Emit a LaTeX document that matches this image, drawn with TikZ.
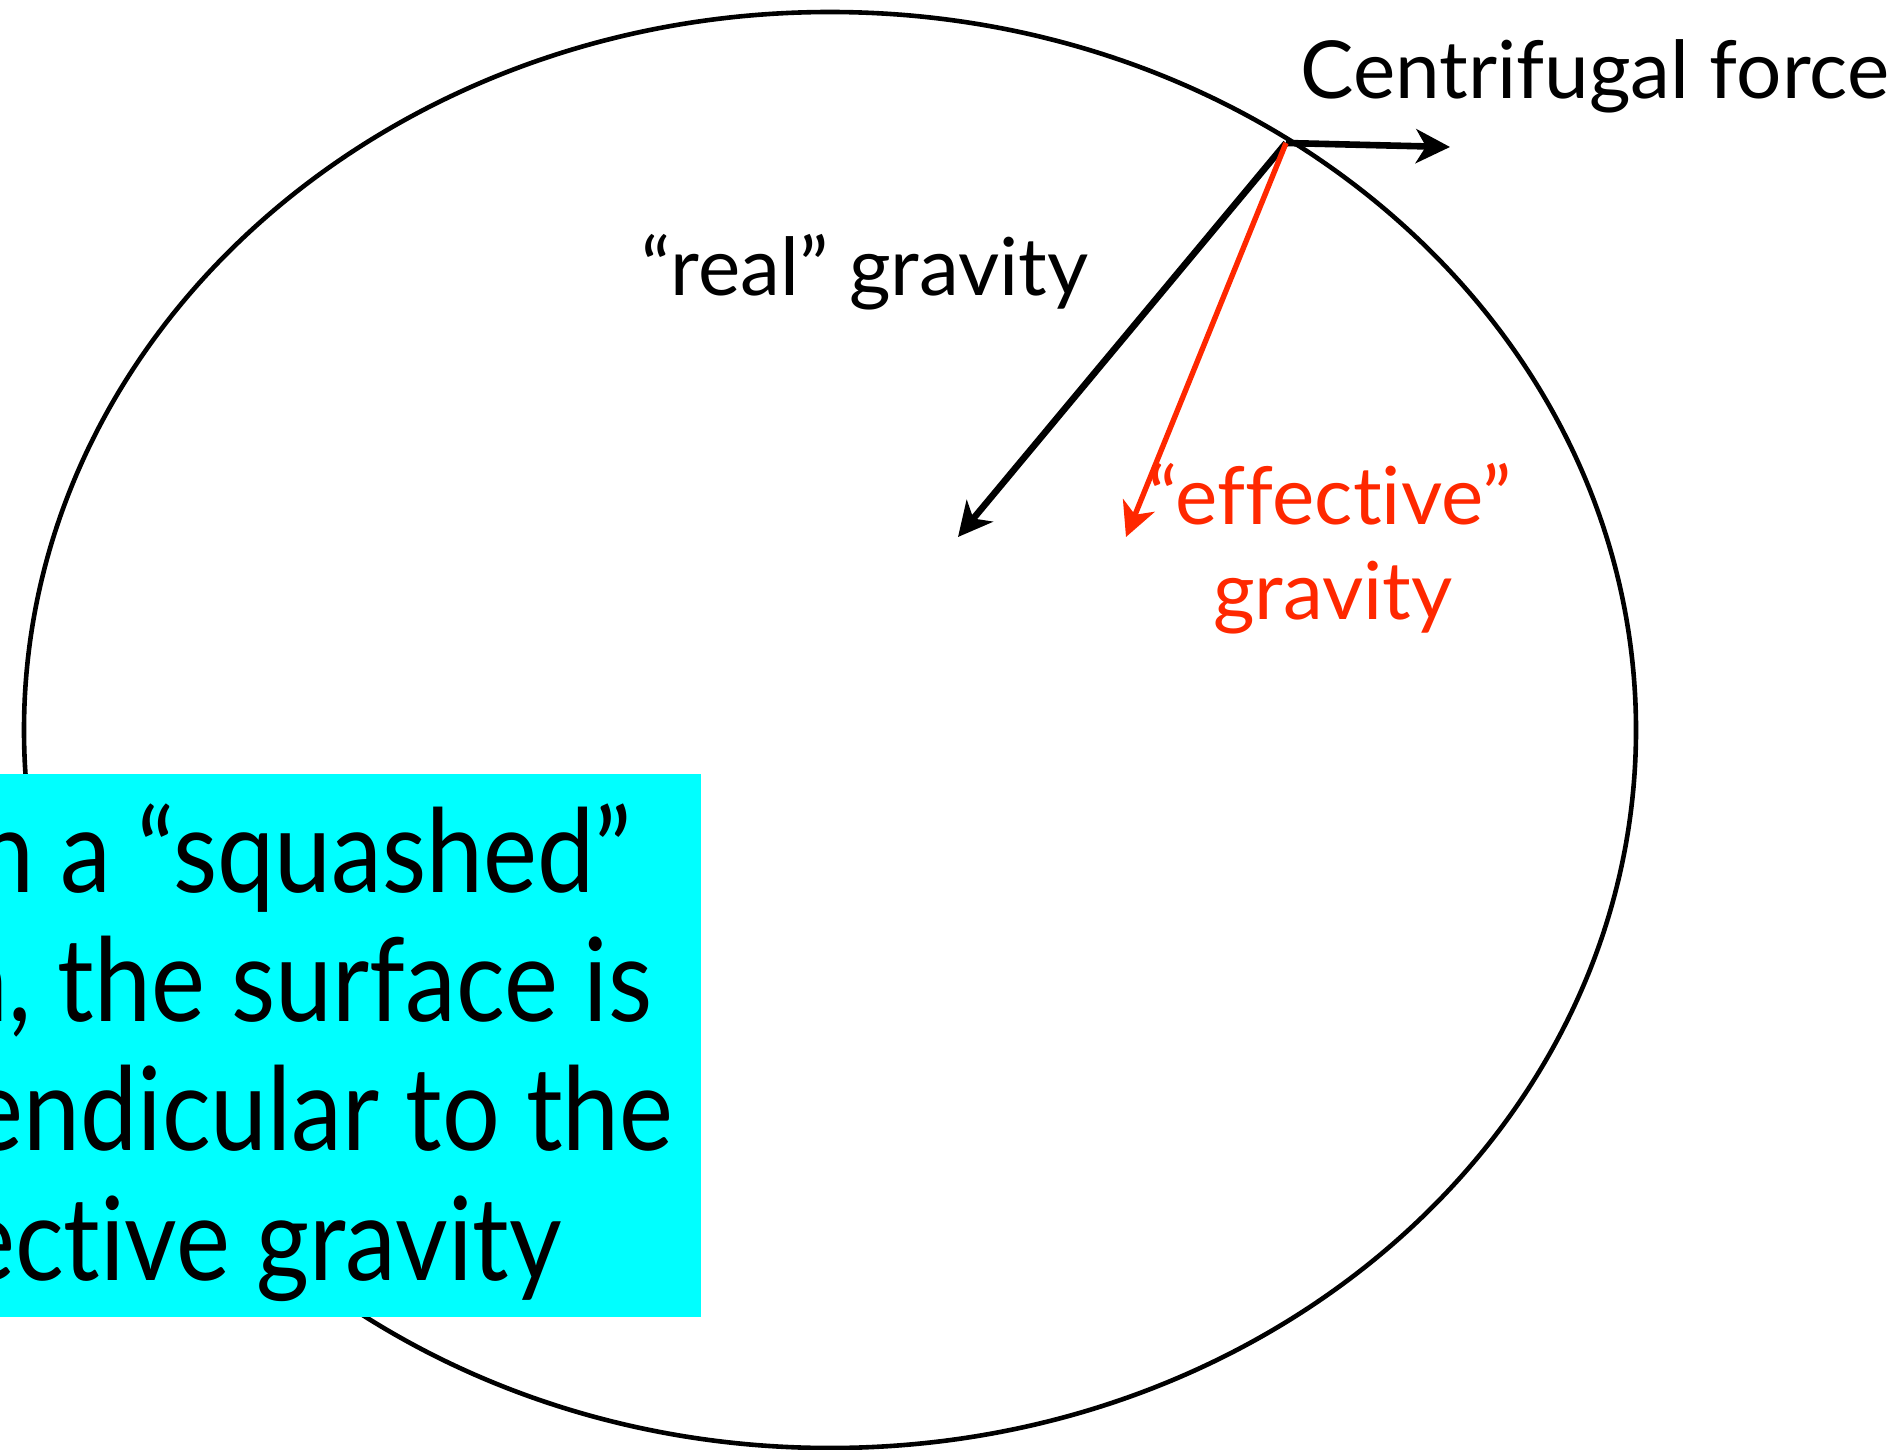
\documentclass[tikz,border=0pt]{standalone}
\usepackage{fontspec}
\setmainfont{Lato}[RawFeature={-liga;-dlig}]
\newfontfamily\boxfont{Lato}[FakeStretch=0.88,RawFeature={-liga;-dlig}]
\usetikzlibrary{arrows.meta}
\definecolor{effred}{RGB}{255,40,0}
\definecolor{boxcyan}{RGB}{0,255,255}
\begin{document}
\begin{tikzpicture}[x=0.5pt,y=-0.5pt,
  force/.style={line width=3.3pt, -{Stealth[length=17pt,width=17pt,inset=5pt]}},
  lbl/.style={inner sep=0pt, font=\fontsize{40}{48}\selectfont},
  boxtxt/.style={inner sep=0pt, font=\boxfont\fontsize{58}{64}\selectfont}]
\useasboundingbox (0,0) rectangle (1902,1450);
\draw[line width=2.3pt] (830,730) ellipse [x radius=403pt, y radius=359pt];
\coordinate (P) at (1286,143);
\coordinate (cf) at (1450,147);
\coordinate (rg) at (958,537);
\coordinate (eg) at (1126,537);
\draw[force] (P) -- (cf);
\draw[force] (P) -- (rg);
\draw[force, effred, line width=2.7pt] (P) -- (eg);
\node[lbl, anchor=base west] (cflbl) at (1300,99) {Centrifugal force};
\node[lbl, anchor=base] (rglbl) at (865,295) {“real” gravity};
\node[lbl, anchor=base, text=effred] (eglbl1) at (1330,524) {“effective”};
\node[lbl, anchor=base, text=effred] (eglbl2) at (1333,619) {gravity};
\begin{scope}
\clip (0,0) rectangle (1902,1450);
\node[fill=boxcyan, inner sep=0pt, minimum width=350.5pt, minimum height=271.5pt, anchor=north west] (box) at (0,774) {};
\node[boxtxt, anchor=base east] (t1) at (632,892) {n a “squashed”};
\node[boxtxt, anchor=base east] (t2) at (653,1021) {n, the surface is};
\node[boxtxt, anchor=base east] (t3) at (674,1150) {endicular to the};
\node[boxtxt, anchor=base east] (t4) at (562,1280) {ective gravity};
\end{scope}
\end{tikzpicture}
\end{document}
